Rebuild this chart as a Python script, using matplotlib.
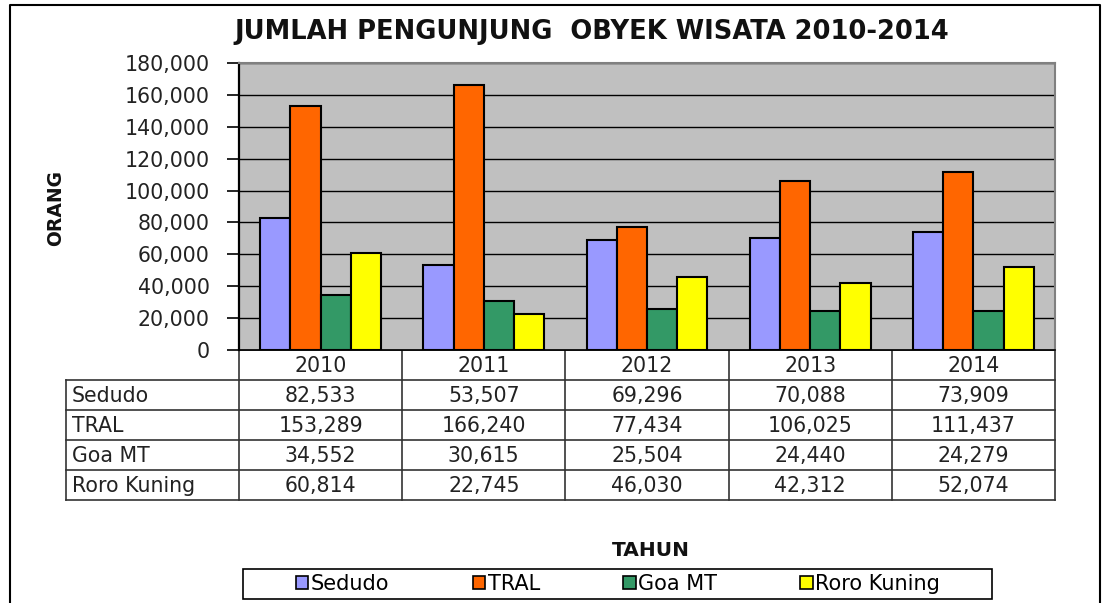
import numpy as np
import matplotlib
matplotlib.use("Agg")
import matplotlib.pyplot as plt
from matplotlib.patches import Patch, Rectangle

plt.rcParams["font.family"] = ["DejaVu Sans"]

years = ["2010", "2011", "2012", "2013", "2014"]
series = ["Sedudo", "TRAL", "Goa MT", "Roro Kuning"]
sedudo = [82533, 53507, 69296, 70088, 73909]
tral = [153289, 166240, 77434, 106025, 111437]
goa_mt = [34552, 30615, 25504, 24440, 24279]
roro_kuning = [60814, 22745, 46030, 42312, 52074]
values = [sedudo, tral, goa_mt, roro_kuning]
colors = ["#9999FF", "#FF6600", "#339966", "#FFFF00"]
yticks = np.arange(0, 180001, 20000)

W, H = 1104, 603
fig = plt.figure(figsize=(W / 100, H / 100), dpi=100)

# pixel layout helpers
px = lambda x: x / W
py = lambda y: 1 - y / H
ax_l, ax_r, ax_t, ax_b = 239, 1055, 63, 350
ax = fig.add_axes([px(ax_l), py(ax_b), px(ax_r) - px(ax_l), py(ax_t) - py(ax_b)])
ax.set_facecolor("#C0C0C0")

x = np.arange(len(years))
bw = 0.185
for i, (name, vals, c) in enumerate(zip(series, values, colors)):
    ax.bar(x + (i - 1.5) * bw, vals, bw, color=c, edgecolor="black", lw=1.5, zorder=3)

ax.set_xlim(-0.5, len(years) - 0.5)
ax.set_ylim(0, 180000)
ax.set_yticks(yticks)
ax.set_yticklabels([f"{v:,}" for v in yticks], fontsize=14.8, color="#222222")
ax.tick_params(axis="y", length=9, width=1.2, pad=12, direction="out")
ax.set_xticks([])
ax.grid(axis="y", color="black", lw=1, zorder=1)
ax.spines["left"].set_linewidth(1.6)
for s in ("top", "right"):
    ax.spines[s].set_color("#808080")
    ax.spines[s].set_linewidth(1.5)
ax.spines["bottom"].set_linewidth(1.2)

# overlay in pixel coordinates for the data table, labels, legend and border
ov = fig.add_axes([0, 0, 1, 1], zorder=-1)
ov.set_xlim(0, W); ov.set_ylim(H, 0); ov.axis("off")

col_edges = np.linspace(ax_l, ax_r, len(years) + 1)
row_edges = [350, 380, 410, 440, 470, 500]
tab_left = 66
lc = "#333333"
# horizontal lines
ov.plot([ax_l, ax_r], [row_edges[0], row_edges[0]], color=lc, lw=1.2)
for y in row_edges[1:]:
    ov.plot([tab_left, ax_r], [y, y], color=lc, lw=1.2)
# vertical lines
for xe in col_edges:
    ov.plot([xe, xe], [row_edges[0], row_edges[-1]], color=lc, lw=1.2)
ov.plot([tab_left, tab_left], [row_edges[1], row_edges[-1]], color=lc, lw=1.2)

tab_fs = 14.8
for j, yr in enumerate(years):
    cx = (col_edges[j] + col_edges[j + 1]) / 2
    ov.text(cx, (row_edges[0] + row_edges[1]) / 2 + 1, yr, ha="center", va="center",
            fontsize=tab_fs, color="#222222")
for i, (name, vals) in enumerate(zip(series, values)):
    cy = (row_edges[i + 1] + row_edges[i + 2]) / 2 + 1
    ov.text(tab_left + 6, cy, name, ha="left", va="center", fontsize=tab_fs, color="#222222")
    for j, v in enumerate(vals):
        cx = (col_edges[j] + col_edges[j + 1]) / 2
        ov.text(cx, cy, f"{v:,}", ha="center", va="center", fontsize=tab_fs, color="#222222")

# titles
ov.text(592, 32, "JUMLAH PENGUNJUNG  OBYEK WISATA 2010-2014", ha="center", va="center",
        fontsize=18.5, fontweight="bold", color="#111111")
ov.text(56, 208, "ORANG", ha="center", va="center", rotation=90, fontsize=13.5,
        fontweight="bold", color="#111111")
ov.text(651, 551, "TAHUN", ha="center", va="center", fontsize=14.5, fontweight="bold",
        color="#111111")

# legend box
ov.add_patch(Rectangle((243, 569), 992 - 243, 30, facecolor="white", edgecolor="black", lw=1.2))
handles = [Patch(facecolor=c, edgecolor="black", lw=1.2) for c in colors]
fig.legend(handles, series, loc="center", bbox_to_anchor=(px(618), py(584)), ncol=4,
           frameon=False, fontsize=15, handlelength=0.6, handleheight=0.6,
           handletextpad=0.12, columnspacing=4.0, borderpad=0)

# outer chart border
ov.plot([10, 10, 1100, 1100], [H + 5, 5, 5, H + 5], color="black", lw=1.5)

fig.savefig("out.png", dpi=100)
